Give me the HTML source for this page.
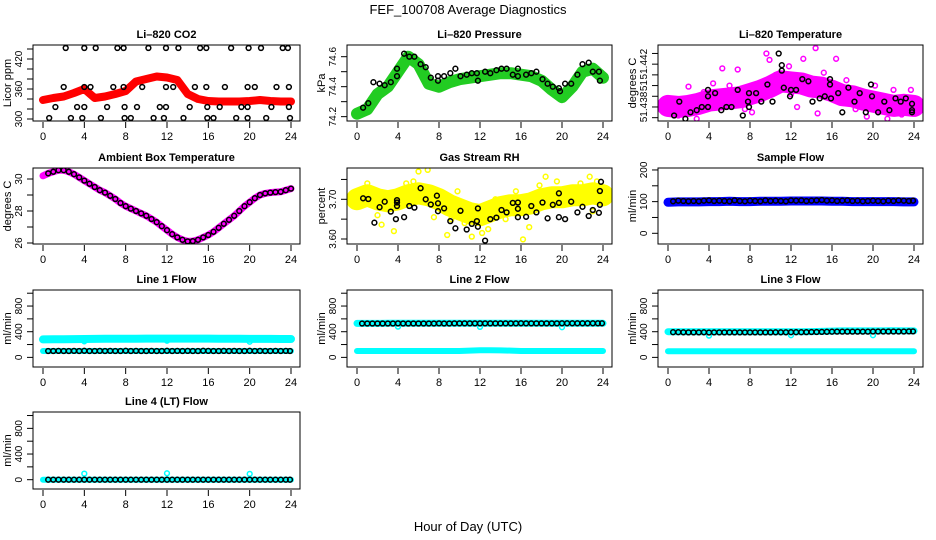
<!DOCTYPE html>
<html><head><meta charset="utf-8"><title>FEF_100708 Average Diagnostics</title>
<style>
html,body{margin:0;padding:0;background:#fff;}
svg{display:block;font-family:"Liberation Sans",Arial,sans-serif;}
</style></head>
<body>
<svg id="chart" width="936" height="540" viewBox="0 0 936 540" xmlns="http://www.w3.org/2000/svg">
<rect x="0" y="0" width="936" height="540" fill="#fff"/>
<text x="468" y="14" font-size="13" text-anchor="middle">FEF_100708  Average Diagnostics</text>
<text x="468" y="531" font-size="13" text-anchor="middle">Hour of Day (UTC)</text>
</svg>
<script>
// ---------- data ----------
const HOURS = [0,1,2,3,4,5,6,7,8,9,10,11,12,13,14,15,16,17,18,19,20,21,22,23,24];
const HALF = [0,0.5,1,1.5,2,2.5,3,3.5,4,4.5,5,5.5,6,6.5,7,7.5,8,8.5,9,9.5,10,10.5,11,11.5,12,12.5,13,13.5,14,14.5,15,15.5,16,16.5,17,17.5,18,18.5,19,19.5,20,20.5,21,21.5,22,22.5,23,23.5,24];
const T48 = [0.5,1,1.5,2,2.5,3,3.5,4,4.5,5,5.5,6,6.5,7,7.5,8,8.5,9,9.5,10,10.5,11,11.5,12,12.5,13,13.5,14,14.5,15,15.5,16,16.5,17,17.5,18,18.5,19,19.5,20,20.5,21,21.5,22,22.5,23,23.5,23.9];

// CO2
const co2Band = [338,342,345,352,360,342,345,350,356,375,380,385,383,378,350,340,336,335,335,335,336,338,336,335,335];
const co2BlackH = [2.2,4.0,5.1,7.2,7.8,10.2,11.9,13.1,15.2,15.8,18.2,19.9,21.1,23.2,23.7, 2.0,4.0,4.6,6.8,7.8,9.6,11.9,12.6,14.7,15.8,17.6,19.8,20.5,22.6,23.8, 1.2,3.3,4.0,6.2,7.9,9.1,11.3,11.9,14.2,15.9,17.1,19.2,19.8,22.1,23.8, 0.6,2.7,3.8,5.6,7.9,8.5,10.7,11.7,13.6,15.9,16.5,18.7,19.8,21.6,23.9];
const co2BlackV = [442,442,442,442,442,442,442,442,442,442,442,442,442,442,442, 364,364,364,364,364,364,364,364,364,364,364,364,364,364,364, 324,324,324,324,324,324,324,324,324,324,324,324,324,324,324, 302,302,302,302,302,302,302,302,302,302,302,302,302,302,302];

// Pressure
const presBand = [74.22,74.25,74.35,74.40,74.50,74.60,74.55,74.42,74.40,74.43,74.45,74.46,74.47,74.48,74.49,74.49,74.48,74.47,74.44,74.38,74.33,74.40,74.50,74.52,74.46];
const presBlackH = [0.6,1.1,1.6,2.2,2.7,3.3,3.9,3.9,4.6,5.1,5.6,6.2,6.7,7.2,7.9,7.9,8.5,9.1,9.6,10.1,10.7,11.2,11.7,11.8,12.5,13.0,13.6,14.1,14.6,15.2,15.7,15.7,16.5,17.0,17.5,18.1,18.6,19.1,19.7,19.8,20.3,20.9,21.5,22.0,22.6,23.0,23.6,23.7];
const presBlackV = [74.26,74.29,74.43,74.42,74.41,74.43,74.47,74.52,74.62,74.60,74.60,74.55,74.53,74.46,74.44,74.47,74.47,74.49,74.52,74.47,74.48,74.49,74.49,74.44,74.50,74.49,74.51,74.52,74.52,74.48,74.52,74.47,74.48,74.49,74.50,74.45,74.42,74.40,74.39,74.37,74.42,74.42,74.48,74.55,74.56,74.50,74.50,74.44];

// Li-820 temperature
const tempBand = [51.4381,51.4380,51.4381,51.4383,51.4386,51.4387,51.4388,51.4389,51.4392,51.4395,51.4399,51.4404,51.4403,51.4402,51.4399,51.4398,51.4395,51.4391,51.4390,51.4387,51.4385,51.4383,51.4381,51.4382,51.4381];
const tempScatH = [2.0,5.3,6.8,9.6,9.9,13.2,14.4,16.4,14.6,19.4,21.4,22.0,23.7,8.2,2.8,0.1,1.0,3.5,6.0,7.5,10.5,11.8,12.6,15.2,17.4,18.3,20.2,22.8,4.4,12.0];
const tempScatV = [51.4399,51.4416,51.4415,51.4430,51.4424,51.4425,51.4435,51.4425,51.4374,51.4371,51.4369,51.4396,51.4396,51.4375,51.4369,51.4383,51.4372,51.4394,51.4400,51.4378,51.4410,51.4418,51.4380,51.4412,51.4405,51.4378,51.4400,51.4373,51.4402,51.4392];
const tempBlackH = [0.6,1.1,1.7,2.2,2.8,3.3,3.9,3.9,3.9,4.6,5.2,5.7,6.2,6.8,7.3,7.8,7.9,7.9,8.6,9.1,9.7,10.2,10.8,11.1,11.1,11.3,11.9,12.0,12.5,13.1,13.7,14.1,14.8,15.3,15.8,15.8,15.9,16.6,17.0,17.6,18.2,18.7,19.3,19.8,19.9,20.5,21.1,21.6,22.2,22.7,23.2,23.8,23.8,23.8];
const tempBlackV = [51.4372,51.4385,51.4369,51.4375,51.4377,51.4380,51.4380,51.4396,51.4390,51.4393,51.4377,51.4380,51.4380,51.4396,51.4372,51.4385,51.4380,51.4393,51.4393,51.4385,51.4401,51.4385,51.4430,51.4419,51.4414,51.4398,51.4390,51.4396,51.4396,51.4406,51.4404,51.4385,51.4388,51.4390,51.4406,51.4401,51.4388,51.4393,51.4375,51.4398,51.4385,51.4393,51.4375,51.4401,51.4390,51.4375,51.4385,51.4377,51.4388,51.4385,51.4388,51.4375,51.4383,51.4377];

// Ambient box temperature (half-hourly)
const ambient = [30.2,30.35,30.45,30.55,30.55,30.45,30.3,30.1,29.9,29.7,29.5,29.3,29.15,28.95,28.75,28.5,28.3,28.15,28.0,27.85,27.7,27.5,27.3,27.05,26.8,26.55,26.35,26.2,26.1,26.12,26.2,26.35,26.5,26.7,26.95,27.2,27.45,27.7,28.0,28.3,28.55,28.8,29.0,29.1,29.15,29.18,29.2,29.3,29.4];

// Gas stream RH
const rhBand = [3.70,3.71,3.70,3.695,3.70,3.71,3.715,3.71,3.70,3.685,3.675,3.665,3.66,3.67,3.68,3.685,3.685,3.69,3.70,3.705,3.705,3.71,3.71,3.715,3.71];
const rhScatH = [6.0,6.9,8.8,11.2,16.2,18.4,3.6,2.4,1.0,22.7,0.3,4.8,5.5,7.5,9.8,10.5,12.8,13.5,14.5,15.5,17.8,19.5,20.8,21.8,23.4,2.0,9.2,12.2,16.8,23.0];
const rhScatV = [3.770,3.774,3.610,3.606,3.599,3.757,3.620,3.636,3.740,3.757,3.690,3.740,3.745,3.655,3.720,3.640,3.625,3.700,3.650,3.720,3.735,3.745,3.725,3.740,3.745,3.660,3.650,3.615,3.630,3.670];
const rhBlackH = [0.6,1.1,1.7,2.2,2.7,3.3,3.8,3.9,3.9,3.9,4.6,5.1,5.6,6.2,6.7,7.2,7.8,7.9,7.9,8.5,9.1,9.6,10.1,10.7,11.2,11.7,11.8,11.8,12.5,13.0,13.6,14.1,14.6,15.2,15.7,15.7,15.7,16.5,17.0,17.5,18.1,18.6,19.1,19.7,19.7,19.7,20.3,20.9,21.5,22.0,22.6,23.0,23.6,23.7,23.7,23.8];
const rhBlackV = [3.7025,3.7008,3.641,3.680,3.694,3.669,3.650,3.692,3.698,3.683,3.655,3.683,3.679,3.728,3.700,3.687,3.709,3.690,3.670,3.677,3.645,3.627,3.671,3.624,3.638,3.645,3.631,3.677,3.596,3.650,3.654,3.673,3.667,3.691,3.692,3.676,3.655,3.656,3.683,3.667,3.692,3.652,3.686,3.715,3.691,3.655,3.650,3.694,3.667,3.681,3.658,3.673,3.666,3.686,3.721,3.744];

// Sample flow
const sampleBand = [98,99,99,99,100,100,101,100,100,101,101,101,102,102,102,102,101,101,100,100,100,100,100,99,99];
const sampleBlack = [101,103,102,101,102,101,103,104,102,103,102,101,104,102,101,103,102,101,104,102,103,102,101,104,103,104,102,103,104,105,103,104,102,103,104,102,103,101,102,103,102,101,103,102,104,103,102,103];

// Line flows
const line1Upper = [280,282,283,285,286,288,290,290,291,291,292,292,292,292,293,293,292,290,290,290,288,288,288,287,287];
const line1Lower = [100,100,100,100,100,100,100,100,100,100,100,100,100,100,100,100,100,100,100,100,100,100,100,100,100];
const line1Black = [100,100,101,100,100,101,100,102,100,100,101,100,101,100,100,102,100,101,100,100,101,100,100,102,100,101,100,101,100,100,102,101,100,100,101,100,101,100,100,102,100,101,100,100,101,100,101,100];
const line1DipH = [4,12,20];
const line1DipV = [250,260,245];

const line2Upper = [530,530,530,531,531,531,532,532,532,532,532,532,533,533,533,533,533,532,532,532,532,531,531,531,531];
const line2Lower = [100,100,100,100,100,100,100,100,100,100,100,105,110,110,108,105,100,100,100,100,100,100,100,100,100];
const line2Black = [528,528,528,528,528,528,528,530,528,528,528,528,528,528,528,529,528,528,529,529,529,529,529,530,530,530,530,530,530,530,530,531,530,530,530,530,530,530,530,531,531,531,531,531,531,531,531,531];
const line2DipH = [4,12,20];
const line2DipV = [480,475,470];

const line3Upper = [400,400,400,400,398,400,400,400,400,400,400,400,398,400,402,405,410,412,412,413,412,412,415,413,412];
const line3Lower = [95,95,95,95,95,95,95,95,95,95,95,95,95,95,95,95,95,95,95,95,95,95,95,95,95];
const line3Black = [392,392,391,390,390,390,391,388,390,390,390,390,390,390,390,390,390,390,390,390,391,391,391,392,392,393,394,395,396,397,398,400,401,402,402,402,402,402,402,403,403,403,404,404,404,404,405,405];
const line3DipH = [4,12,20];
const line3DipV = [340,345,345];

const line4Band = [0,0,0,0,0,0,0,0,0,0,0,0,0,0,0,0,0,0,0,0,0,0,0,0,0];
const line4Black = [0,0,0,0,0,0,0,0,0,0,0,0,0,0,0,0,0,0,0,0,0,0,0,0,0,0,0,0,0,0,0,0,0,0,0,0,0,0,0,0,0,0,0,0,0,0,0,0];
const line4OutH = [4,12,20];
const line4OutV = [95,100,90];

// ---------- drawing ----------
const svg = document.getElementById('chart');
const NS = 'http://www.w3.org/2000/svg';
const COLS = [[33,300],[347,612],[658,923]];
const ROWS = [[45,121],[168,244],[290,367],[412,489]];

function mk(tag, attrs, name, parent) {
  const el = document.createElementNS(NS, tag);
  for (const k in attrs) el.setAttribute(k, attrs[k]);
  
  
  (parent || svg).appendChild(el);
  return el;
}

function panel(c, r, ymin, ymax, title, ylabel, ticks, labels, key) {
  const [l, rt] = COLS[c], [t, b] = ROWS[r];
  const g = mk('g', {}, key + '-panel');
  const x = h => l + 10 + (h / 24) * (rt - l - 19);
  const y = v => b - (v - ymin) / (ymax - ymin) * (b - t);
  mk('text', {x: (l + rt) / 2, y: t - 7, 'font-size': 11, 'font-weight': 'bold', 'text-anchor': 'middle'}, key + '-title', g).textContent = title;
  const yl = mk('text', {x: 0, y: 0, 'font-size': 11, 'text-anchor': 'middle', transform: `translate(${l - 22},${(t + b) / 2}) rotate(-90)`}, key + '-y-axis-title', g);
  yl.textContent = ylabel;
  for (let h = 0; h <= 24; h += 4) {
    mk('line', {x1: x(h), x2: x(h), y1: b + 1, y2: b + 7, stroke: '#000', 'stroke-width': 1}, key + '-x-tick', g);
    mk('text', {x: x(h), y: b + 19, 'font-size': 11, 'text-anchor': 'middle'}, key + '-x-tick-label', g).textContent = h;
  }
  ticks.forEach(v => {
    mk('line', {x1: l - 6, x2: l, y1: y(v), y2: y(v), stroke: '#000', 'stroke-width': 1}, key + '-y-tick', g);
  });
  labels.forEach(p => {
    const tl = mk('text', {x: 0, y: 0, 'font-size': 10, 'text-anchor': 'middle', transform: `translate(${l - 11},${y(p[0])}) rotate(-90)`}, key + '-y-tick-label', g);
    tl.textContent = p[1];
  });
  const plot = mk('g', {}, key + '-plot-area', g);
  const clip = 'clip-' + key;
  const cp = mk('clipPath', {id: clip}, key + '-clip', g);
  mk('rect', {x: l, y: t, width: rt - l, height: b - t}, key + '-clip-rect', cp);
  plot.setAttribute('clip-path', `url(#${clip})`);
  mk('rect', {x: l, y: t, width: rt - l, height: b - t, fill: 'none', stroke: '#000', 'stroke-width': 1}, key + '-frame', g);
  return {x, y, plot};
}

function band(p, hs, vs, color, w, name) {
  const pts = hs.map((h, i) => p.x(h).toFixed(1) + ',' + p.y(vs[i]).toFixed(1)).join(' ');
  mk('polyline', {points: pts, fill: 'none', stroke: color, 'stroke-width': w, 'stroke-linejoin': 'round', 'stroke-linecap': 'round'}, name, p.plot);
}
function pts(p, hs, vs, color, name) {
  hs.forEach((h, i) => {
    mk('circle', {cx: p.x(h).toFixed(1), cy: p.y(vs[i]).toFixed(1), r: 2.4, fill: 'none', stroke: color, 'stroke-width': 1.5}, name, p.plot);
  });
}
function range(a, b, s) { const o = []; for (let v = a; v <= b + 1e-9; v += s) o.push(+v.toFixed(6)); return o; }

// Li-820 CO2
let p = panel(0, 0, 296, 448, 'Li\u2013820 CO2', 'Licor ppm', range(300, 440, 20), [[300, '300'], [360, '360'], [420, '420']], 'co2');
band(p, HOURS, co2Band, '#ff0000', 8, 'co2-band');
pts(p, co2BlackH, co2BlackV, '#000', 'co2-point');

// Pressure
p = panel(1, 0, 74.171, 74.678, 'Li\u2013820 Pressure', 'kPa', range(74.2, 74.6, 0.1), [[74.2, '74.2'], [74.4, '74.4'], [74.6, '74.6']], 'pressure');
band(p, HOURS, presBand, '#22cc22', 12, 'pressure-band');
pts(p, presBlackH, presBlackV, '#000', 'pressure-point');

// Li-820 Temperature
p = panel(2, 0, 51.43669, 51.44379, 'Li\u2013820 Temperature', 'degrees C', range(51.437, 51.443, 0.001), [[51.438, '51.438'], [51.44, '51'], [51.442, '51.442']], 'li820-temp');
band(p, HOURS, tempBand, '#ff00ff', 22, 'li820-temp-band');
pts(p, tempScatH, tempScatV, '#ff00ff', 'li820-temp-scatter');
pts(p, tempBlackH, tempBlackV, '#000', 'li820-temp-point');

// Ambient
p = panel(0, 1, 25.9375, 30.6875, 'Ambient Box Temperature', 'degrees C', [26, 27, 28, 29, 30], [[26, '26'], [28, '28'], [30, '30']], 'ambient');
band(p, HALF, ambient, '#ff00ff', 7, 'ambient-band');
pts(p, HALF.slice(1), ambient.slice(1), '#000', 'ambient-point');

// RH
p = panel(1, 1, 3.5874, 3.7788, 'Gas Stream RH', 'percent', [3.60, 3.65, 3.70, 3.75], [[3.60, '3.60'], [3.70, '3.70']], 'rh');
band(p, HOURS, rhBand, '#ffff00', 22, 'rh-band');
pts(p, rhScatH, rhScatV, '#ffff00', 'rh-scatter');
pts(p, rhBlackH, rhBlackV, '#000', 'rh-point');

// Sample flow
p = panel(2, 1, -33.8, 206.2, 'Sample Flow', 'ml/min', [0, 50, 100, 150, 200], [[0, '0'], [100, '100'], [200, '200']], 'sample-flow');
band(p, HOURS, sampleBand, '#0000ff', 9, 'sample-flow-band');
pts(p, T48, sampleBlack, '#000', 'sample-flow-point');

const flowTicks = [0, 200, 400, 600, 800, 1000];
const flowLabels = [[0, '0'], [400, '400'], [800, '800']];

// Line 1
p = panel(0, 2, -150, 1050, 'Line 1 Flow', 'ml/min', flowTicks, flowLabels, 'line1');
band(p, HOURS, line1Upper, '#00ffff', 8, 'line1-upper-band');
band(p, HOURS, line1Lower, '#00ffff', 6, 'line1-lower-band');
pts(p, line1DipH, line1DipV, '#00ffff', 'line1-dip');
pts(p, T48, line1Black, '#000', 'line1-point');

// Line 2
p = panel(1, 2, -150, 1050, 'Line 2 Flow', 'ml/min', flowTicks, flowLabels, 'line2');
band(p, HOURS, line2Upper, '#00ffff', 7, 'line2-upper-band');
band(p, HOURS, line2Lower, '#00ffff', 6, 'line2-lower-band');
pts(p, line2DipH, line2DipV, '#00ffff', 'line2-dip');
pts(p, T48, line2Black, '#000', 'line2-point');

// Line 3
p = panel(2, 2, -150, 1050, 'Line 3 Flow', 'ml/min', flowTicks, flowLabels, 'line3');
band(p, HOURS, line3Upper, '#00ffff', 7, 'line3-upper-band');
band(p, HOURS, line3Lower, '#00ffff', 6, 'line3-lower-band');
pts(p, line3DipH, line3DipV, '#00ffff', 'line3-dip');
pts(p, T48, line3Black, '#000', 'line3-point');

// Line 4
p = panel(0, 3, -145, 1055, 'Line 4 (LT) Flow', 'ml/min', flowTicks, flowLabels, 'line4');
band(p, HOURS, line4Band, '#00ffff', 6, 'line4-band');
pts(p, line4OutH, line4OutV, '#00ffff', 'line4-outlier');
pts(p, T48, line4Black, '#000', 'line4-point');
</script>
</body></html>
